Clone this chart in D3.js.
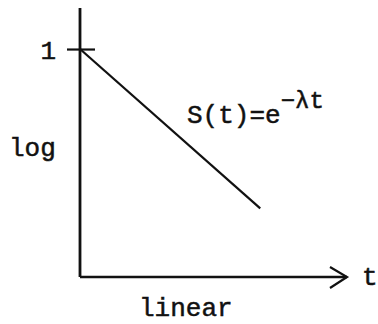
<!DOCTYPE html>
<html>
<head>
<meta charset="utf-8">
<script src="https://cdn.jsdelivr.net/npm/d3@7"></script>
<style>
  html, body { margin: 0; padding: 0; background: #fff; }
  svg text { font-family: "Liberation Mono", "Courier New", monospace; fill: #111; stroke: #111; stroke-width: 0.5px; }
</style>
</head>
<body>
<svg id="chart" width="378" height="324"></svg>
<script>
// Survival curve S(t) = e^(-λt) on a log vertical axis and a linear time axis
const timePoints = [0, 6.75];
const survival = [1, 0.04];
const yTickValues = [1];
const yAxisTitle = "log";
const xAxisTitle = "linear";
const xVarLabel = "t";
const curveLabel = "S(t)=e";
const curveExponent = "\u2212\u03bbt";

const svg = d3.select("#chart");
const ink = "#111";
const fontSize = 26;

const x = d3.scaleLinear().domain([0, 10]).range([80, 347]);
const y = d3.scaleLog().domain([0.01, 2.2]).range([277, 10]);

// vertical (log) axis with the single tick at 1
const yAxis = svg.append("g")
  .attr("transform", `translate(${x(0)},0)`)
  .call(d3.axisLeft(y).tickValues(yTickValues).tickFormat(d3.format("d"))
    .tickSize(13).tickPadding(11));
yAxis.select(".domain").remove();
yAxis.selectAll(".tick line").attr("x1", -13).attr("x2", 15)
  .attr("stroke", ink).attr("stroke-width", 2.2);
yAxis.selectAll(".tick text").attr("font-size", fontSize)
  .attr("font-family", "Liberation Mono, monospace").attr("fill", ink)
  .attr("dy", "0.38em");

svg.append("line")
  .attr("x1", x(0)).attr("x2", x(0))
  .attr("y1", y.range()[1] - 2).attr("y2", y.range()[0])
  .attr("stroke", ink).attr("stroke-width", 2.8);

// horizontal (linear) axis with open arrowhead
svg.append("line")
  .attr("x1", x(0)).attr("x2", x(10))
  .attr("y1", y.range()[0]).attr("y2", y.range()[0])
  .attr("stroke", ink).attr("stroke-width", 2.4);
svg.append("path")
  .attr("d", `M${x(10) - 17},${y.range()[0] - 10} L${x(10)},${y.range()[0]} L${x(10) - 17},${y.range()[0] + 11}`)
  .attr("fill", "none").attr("stroke", ink).attr("stroke-width", 2.2);

// the survival line
const line = d3.line().x((d, i) => x(timePoints[i])).y(d => y(d));
svg.append("path")
  .datum(survival)
  .attr("d", line)
  .attr("fill", "none").attr("stroke", ink).attr("stroke-width", 2.2);

// labels
svg.append("text").attr("x", 9).attr("y", 156).attr("font-size", fontSize).text(yAxisTitle);
svg.append("text").attr("x", 139).attr("y", 316).attr("font-size", fontSize).text(xAxisTitle);
svg.append("text").attr("x", 362).attr("y", 285).attr("font-size", fontSize).text(xVarLabel);

const eq = svg.append("text").attr("x", 187).attr("y", 123).attr("font-size", fontSize);
eq.append("tspan").text(curveLabel);
eq.append("tspan").attr("dy", -15).attr("font-size", 24).text(curveExponent);
</script>
</body>
</html>
